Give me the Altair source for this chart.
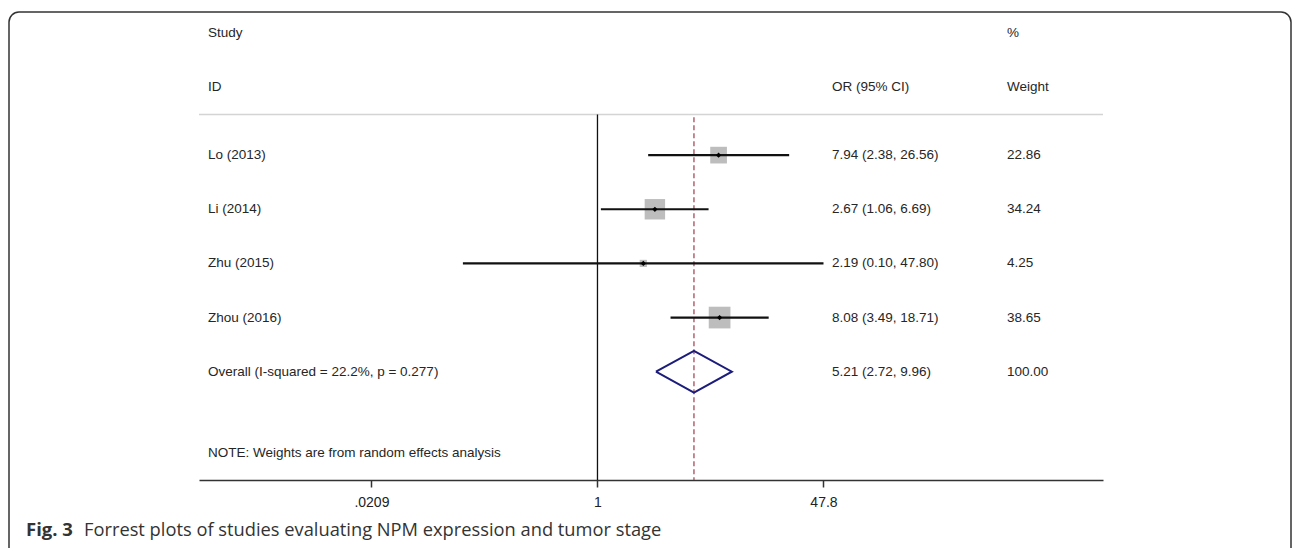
import altair as alt
import pandas as pd

# ---- data ----
studies = ["Lo (2013)", "Li (2014)", "Zhu (2015)", "Zhou (2016)"]
odds = [7.94, 2.67, 2.19, 8.08]
ci_low = [2.38, 1.06, 0.10, 3.49]
ci_high = [26.56, 6.69, 47.80, 18.71]
weights = [22.86, 34.24, 4.25, 38.65]

overall_label = "Overall  (I-squared = 22.2%, p = 0.277)"
overall_or = 5.21
overall_lo = 2.72
overall_hi = 9.96
overall_w = 100.00

note = "NOTE: Weights are from random effects analysis"
header_top = ["Study", "%"]
header_bottom = ["ID", "OR (95% CI)", "Weight"]

tick_values = [0.0209, 1, 47.8]
tick_labels = [".0209", "1", "47.8"]

caption_bold = "Fig. 3"
caption_rest = "Forrest plots of studies evaluating NPM expression and tumor stage"

# ---- tables ----
n = len(studies)
rows = list(range(1, n + 1))
overall_row = n + 1
df = pd.DataFrame({
    "study": studies, "or": odds, "lo": ci_low, "hi": ci_high,
    "w": weights, "row": rows,
})
df["ci_txt"] = [f"{o:.2f} ({l:.2f}, {h:.2f})" for o, l, h in zip(odds, ci_low, ci_high)]
df["w_txt"] = [f"{w:.2f}" for w in weights]

ov = pd.DataFrame({
    "study": [overall_label], "row": [overall_row],
    "ci_txt": [f"{overall_or:.2f} ({overall_lo:.2f}, {overall_hi:.2f})"],
    "w_txt": [f"{overall_w:.2f}"],
})
labels_df = pd.concat([df[["study", "row", "ci_txt", "w_txt"]], ov], ignore_index=True)

half_h = 0.385
diamond = pd.DataFrame({
    "x": [overall_lo, overall_or, overall_hi, overall_or, overall_lo],
    "y": [overall_row, overall_row - half_h, overall_row, overall_row + half_h, overall_row],
    "o": [0, 1, 2, 3, 4],
})

note_row = overall_row + 1.5
axis_row = overall_row + 2
sep_row = 0.25
head_top_row = -1.25
head_bot_row = -0.25

FONT = "Liberation Sans"
TXT = "#262626"
FS = 13.5

xsc = alt.Scale(type="log", domain=[0.001094, 5706], nice=False)
ysc = alt.Scale(domain=[-1.865, axis_row], reverse=True, nice=False, zero=False)

label_expr = " : ".join(
    f"abs(datum.value - {v}) < {v * 1e-3} ? '{l}'" for v, l in zip(tick_values, tick_labels)
) + " : ''"
xaxis = alt.Axis(values=tick_values, labelExpr=label_expr, title=None, grid=False,
                 domainColor="#333333", domainWidth=1.5, tickColor="#333333",
                 tickWidth=1.5, tickSize=7, labelFont=FONT, labelFontSize=14,
                 labelColor="#222222", labelPadding=8, labelFlush=False,
                 labelOverlap=False)


def X(f):
    return alt.X(f, type="quantitative", scale=xsc, axis=xaxis)


def Y(f):
    return alt.Y(f, type="quantitative", scale=ysc, axis=None)


one = pd.DataFrame({"k": [0]})

border = alt.Chart(one).mark_rect(
    fillOpacity=0, stroke="#333333", strokeWidth=1.5, cornerRadius=10
).encode(x=alt.value(-190), x2=alt.value(1092), y=alt.value(12), y2=alt.value(640))

sep = alt.Chart(pd.DataFrame({"y": [sep_row]})).mark_rule(
    color="#d4d4d4", strokeWidth=1.5
).encode(y=Y("y"))

null_line = alt.Chart(pd.DataFrame({"x": [1], "y": [sep_row], "y2": [axis_row]})).mark_rule(
    color="#111111", strokeWidth=1.3
).encode(x=X("x"), y=Y("y"), y2="y2")

ov_line = alt.Chart(pd.DataFrame({"x": [overall_or], "y": [sep_row + 0.05], "y2": [axis_row]})).mark_rule(
    color="#a84a5a", strokeWidth=1.3, strokeDash=[5, 3]
).encode(x=X("x"), y=Y("y"), y2="y2")

squares = alt.Chart(df).mark_square(color="#bdbdbd", opacity=1).encode(
    x=X("or"), y=Y("row"),
    size=alt.Size("w:Q", scale=alt.Scale(domain=[0, 40], range=[0, 488]), legend=None),
)

ci = alt.Chart(df).mark_rule(color="#111111", strokeWidth=2.2).encode(
    x=X("lo"), x2="hi", y=Y("row")
)

dots = alt.Chart(df).mark_point(shape="diamond", filled=True, color="#000000", size=28, opacity=1).encode(
    x=X("or"), y=Y("row")
)

dia = alt.Chart(diamond).mark_line(color="#1c1c7c", strokeWidth=2).encode(
    x=X("x"), y=Y("y"), order="o:Q"
)

txt_kw = dict(font=FONT, fontSize=FS, color=TXT, align="left", baseline="middle")

study_txt = alt.Chart(labels_df).mark_text(**txt_kw).encode(
    x=alt.value(9), y=Y("row"), text="study:N")
ci_txt = alt.Chart(labels_df).mark_text(**txt_kw).encode(
    x=alt.value(633), y=Y("row"), text="ci_txt:N")
w_txt = alt.Chart(labels_df).mark_text(**txt_kw).encode(
    x=alt.value(808), y=Y("row"), text="w_txt:N")

h1 = alt.Chart(pd.DataFrame({"t": [header_top[0]], "y": [head_top_row]})).mark_text(**txt_kw).encode(
    x=alt.value(9), y=Y("y"), text="t:N")
h2 = alt.Chart(pd.DataFrame({"t": [header_top[1]], "y": [head_top_row]})).mark_text(**txt_kw).encode(
    x=alt.value(808), y=Y("y"), text="t:N")
h3 = alt.Chart(pd.DataFrame({"t": [header_bottom[0]], "y": [head_bot_row]})).mark_text(**txt_kw).encode(
    x=alt.value(9), y=Y("y"), text="t:N")
h4 = alt.Chart(pd.DataFrame({"t": [header_bottom[1]], "y": [head_bot_row]})).mark_text(**txt_kw).encode(
    x=alt.value(633), y=Y("y"), text="t:N")
h5 = alt.Chart(pd.DataFrame({"t": [header_bottom[2]], "y": [head_bot_row]})).mark_text(**txt_kw).encode(
    x=alt.value(808), y=Y("y"), text="t:N")

note_txt = alt.Chart(pd.DataFrame({"t": [note], "y": [note_row]})).mark_text(**txt_kw).encode(
    x=alt.value(9), y=Y("y"), text="t:N")

cap1 = alt.Chart(pd.DataFrame({"t": [caption_bold]})).mark_text(
    font="Open Sans", fontSize=18.5, fontWeight="bold", color="#333333",
    align="left", baseline="alphabetic"
).encode(x=alt.value(-173), y=alt.value(536), text="t:N")
cap2 = alt.Chart(pd.DataFrame({"t": [caption_rest]})).mark_text(
    font="Open Sans", fontSize=18.3, color="#333333", align="left", baseline="alphabetic"
).encode(x=alt.value(-115), y=alt.value(536), text="t:N")

chart = alt.layer(
    border, sep, null_line, ov_line, squares, ci, dots, dia,
    study_txt, ci_txt, w_txt, h1, h2, h3, h4, h5, note_txt, cap1, cap2
).properties(
    width=904, height=480,
    autosize=alt.AutoSizeParams(type="none"),
    padding={"left": 199, "top": 0, "right": 190, "bottom": 68},
    background="white",
).configure_view(stroke=None)

chart.save("out.html", embed_options={"renderer": "svg", "actions": False})
